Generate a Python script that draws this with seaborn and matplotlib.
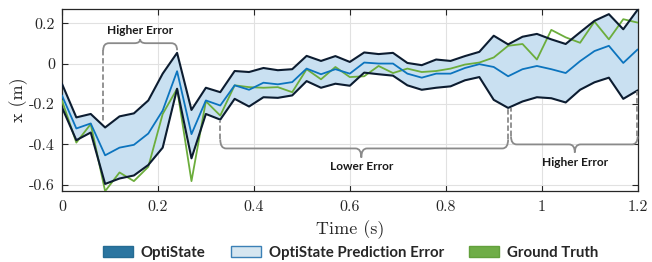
import numpy as np
import pandas as pd
import matplotlib
matplotlib.use("Agg")
import matplotlib.pyplot as plt
from matplotlib.path import Path
from matplotlib.patches import PathPatch, Patch
import seaborn as sns

# ---------------- data ----------------
time = [0.00, 0.03, 0.06, 0.09, 0.12, 0.15, 0.18, 0.21, 0.24, 0.27,
        0.30, 0.33, 0.36, 0.39, 0.42, 0.45, 0.48, 0.51, 0.54, 0.57,
        0.60, 0.63, 0.66, 0.69, 0.72, 0.75, 0.78, 0.81, 0.84, 0.87,
        0.90, 0.93, 0.96, 0.99, 1.02, 1.05, 1.08, 1.11, 1.14, 1.17, 1.20]

upper = [-0.100, -0.267, -0.250, -0.317, -0.262, -0.247, -0.183, -0.050, 0.053, -0.230,
         -0.120, -0.142, -0.037, -0.042, -0.022, -0.033, -0.028, 0.038, 0.013, 0.037,
         0.008, 0.055, 0.047, 0.053, 0.003, -0.008, 0.020, 0.013, 0.037, 0.058,
         0.138, 0.095, 0.133, 0.147, 0.120, 0.097, 0.155, 0.212, 0.245, 0.170, 0.267]

lower = [-0.217, -0.380, -0.342, -0.597, -0.570, -0.555, -0.503, -0.417, -0.125, -0.470,
         -0.250, -0.278, -0.175, -0.213, -0.167, -0.170, -0.158, -0.087, -0.120, -0.100,
         -0.110, -0.045, -0.053, -0.060, -0.108, -0.130, -0.120, -0.113, -0.083, -0.067,
         -0.180, -0.220, -0.188, -0.167, -0.172, -0.193, -0.130, -0.093, -0.070, -0.175, -0.133]

optistate = [-0.158, -0.322, -0.297, -0.455, -0.417, -0.403, -0.347, -0.233, -0.038, -0.350,
             -0.183, -0.208, -0.108, -0.130, -0.095, -0.103, -0.092, -0.025, -0.053, -0.028,
             -0.050, 0.005, 0.000, 0.000, -0.050, -0.070, -0.050, -0.050, -0.022, -0.003,
             -0.017, -0.063, -0.028, -0.012, -0.028, -0.047, 0.012, 0.062, 0.088, 0.003, 0.070]

ground_truth = [-0.183, -0.392, -0.300, -0.633, -0.540, -0.583, -0.512, -0.250, -0.125, -0.583,
                -0.187, -0.258, -0.108, -0.117, -0.120, -0.117, -0.142, -0.028, -0.078, -0.017,
                -0.067, -0.063, -0.012, -0.047, -0.025, -0.042, -0.037, -0.025, -0.005, 0.005,
                0.030, 0.088, 0.097, 0.020, 0.167, 0.130, 0.103, 0.208, 0.120, 0.220, 0.203]

x_ticks = [0, 0.2, 0.4, 0.6, 0.8, 1.0, 1.2]
x_tick_labels = ["0", "0.2", "0.4", "0.6", "0.8", "1", "1.2"]
y_ticks = [-0.6, -0.4, -0.2, 0, 0.2]
y_tick_labels = ["-0.6", "-0.4", "-0.2", "0", "0.2"]

legend_labels = ["OptiState", "OptiState Prediction Error", "Ground Truth"]

# ---------------- style ----------------
sns.set_theme(style="ticks")
plt.rcParams["axes.unicode_minus"] = False
plt.rcParams["font.family"] = ["DejaVu Sans"]

SERIF = ["cmr10", "DejaVu Serif"]
SANS_BOLD = ["Lato", "DejaVu Sans"]

C_BAND_EDGE = "#0c1c30"
C_BAND_FILL = "#c9e0f1"
C_OPTI = "#0c74be"
C_TRUTH = "#6cad3c"
C_BRACE = "#8a8a8a"

fig = plt.figure(figsize=(6.52, 2.62), dpi=100)
ax = fig.add_axes([0.095, 0.271, 0.883, 0.695])

df = pd.DataFrame({"time": time, "upper": upper, "lower": lower,
                   "opti": optistate, "truth": ground_truth})

ax.fill_between(df["time"], df["lower"], df["upper"], color=C_BAND_FILL, lw=0, zorder=1)
sns.lineplot(data=df, x="time", y="truth", ax=ax, color=C_TRUTH, lw=1.3, zorder=3)
sns.lineplot(data=df, x="time", y="upper", ax=ax, color=C_BAND_EDGE, lw=1.5, zorder=4)
sns.lineplot(data=df, x="time", y="lower", ax=ax, color=C_BAND_EDGE, lw=1.5, zorder=4)
sns.lineplot(data=df, x="time", y="opti", ax=ax, color=C_OPTI, lw=1.3, zorder=5)

ax.set_xlim(0, 1.2)
ax.set_ylim(-0.632, 0.271)
ax.set_xticks(x_ticks)
ax.set_xticklabels(x_tick_labels, family=SERIF, fontsize=11.5)
ax.set_yticks(y_ticks)
ax.set_yticklabels(y_tick_labels, family=SERIF, fontsize=11.5)
ax.tick_params(direction="in", length=4, width=0.8, top=True, right=True,
               colors="#262626")
ax.tick_params(axis="x", pad=7)
ax.tick_params(axis="y", pad=5)
ax.grid(True, color="#e1e1e1", lw=0.8, zorder=0)
for s in ax.spines.values():
    s.set_visible(True)
    s.set_color("#262626")
    s.set_linewidth(0.9)
ax.set_xlabel("Time (s)", family=SERIF, fontsize=13, labelpad=4.5, color="#262626")
ax.set_ylabel("x (m)", family=SERIF, fontsize=13, labelpad=1, color="#262626")


# ---------------- braces ----------------
def brace(x0, x1, xm, y, tip, end, rx=0.012):
    V = [(x0, end), (x0, y), (x0 + rx, y), (xm - rx, y), (xm, y), (xm, tip),
         (xm, y), (xm + rx, y), (x1 - rx, y), (x1, y), (x1, end)]
    C = [Path.MOVETO, Path.CURVE3, Path.CURVE3, Path.LINETO, Path.CURVE3, Path.CURVE3,
         Path.CURVE3, Path.CURVE3, Path.LINETO, Path.CURVE3, Path.CURVE3]
    ax.add_patch(PathPatch(Path(V, C), fill=False, edgecolor=C_BRACE, lw=1.3,
                           clip_on=False, zorder=6))


def dashed(x, y0, y1):
    ax.plot([x, x], [y0, y1], color=C_BRACE, lw=1.3, ls=(0, (3, 1.5)),
            clip_on=False, zorder=6)


brace(0.086, 0.240, 0.163, 0.101, 0.121, 0.066)
dashed(0.086, 0.066, -0.295)
brace(0.330, 0.930, 0.624, -0.421, -0.466, -0.376)
dashed(0.330, -0.376, -0.283)
brace(0.936, 1.200, 1.069, -0.401, -0.441, -0.361)
dashed(0.929, -0.376, -0.222)
dashed(0.935, -0.361, -0.222)
dashed(1.199, -0.361, -0.135)

txt_kw = dict(family=SANS_BOLD, fontweight="bold", fontsize=8.6, color="#1a1a1a",
              ha="center", va="center", zorder=7)
ax.text(0.163, 0.166, "Higher Error", **txt_kw)
ax.text(0.625, -0.511, "Lower Error", **txt_kw)
ax.text(1.070, -0.491, "Higher Error", **txt_kw)

# ---------------- legend ----------------
handles = [Patch(facecolor="#2b75a0", edgecolor="#256b93", lw=1.0),
           Patch(facecolor="#d6e6f0", edgecolor="#3b80b6", lw=1.0),
           Patch(facecolor="#6fad47", edgecolor="#62a03c", lw=1.0)]
leg = fig.legend(handles, legend_labels, loc="center", bbox_to_anchor=(0.538, 0.035),
                 ncol=3, frameon=False, handlelength=2.0, handleheight=0.7,
                 handletextpad=0.5, columnspacing=1.7,
                 prop={"family": SANS_BOLD, "weight": "bold", "size": 10.8})

fig.savefig("out.png", dpi=100)
